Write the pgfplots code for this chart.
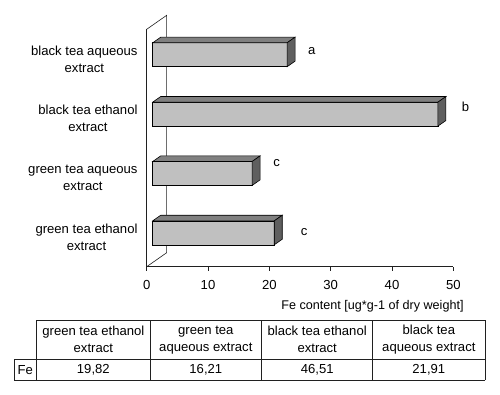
\documentclass[border=0pt]{standalone}
\usepackage{fontspec}
\setmainfont{Liberation Sans}
\usepackage{pgfplots}
\pgfplotsset{compat=1.18}
\definecolor{frontc}{HTML}{C0C0C0}
\definecolor{topc}{HTML}{808080}
\definecolor{sidec}{HTML}{5F5F5F}
\definecolor{linec}{HTML}{202020}
\newcommand{\tf}{\fontsize{13.1}{17}\selectfont}
\begin{document}
\begin{tikzpicture}[x=1pt,y=1pt]
\path[use as bounding box] (0,0) rectangle (500,394);
\begin{axis}[
  anchor=origin, at={(146.7pt,127.3pt)},
  x=6.133pt, y=59.35pt,
  xmin=0, xmax=50, ymin=0, ymax=4,
  axis x line*=bottom, axis y line*=left,
  axis line style={linec, line width=0.6pt},
  clip=false,
  tick align=outside,
  xtick={0,10,20,30,40,50},
  major tick length=4pt,
  tick style={linec, line width=0.6pt},
  /pgf/number format/assume math mode=true,
  ticklabel style={font=\tf, text=black},
  xticklabel style={inner sep=0pt, anchor=north, yshift=-9pt},
  ytick={0.5,1.5,2.5,3.5},
  yticklabels={{green tea ethanol\\extract},{green tea aqueous\\extract},{black tea ethanol\\extract},{black tea aqueous\\extract}},
  yticklabel style={align=center, inner sep=0pt, xshift=-5pt},
  y tick style={draw=none},
  extra y ticks={0,1,2,3,4},
  extra y tick labels={},
  extra y tick style={tick style={draw=linec, line width=0.6pt}},
]
% back wall
\addplot[linec, line width=0.6pt] coordinates {(0,4) (3.26,4.236) (3.26,0.236) (0,0)};
% front faces
\addplot[xbar, bar width=24pt, bar shift=0pt, xshift=6pt, yshift=4.2pt, fill=frontc, draw=black, line width=0.6pt]
  coordinates {(19.82,0.5) (16.21,1.5) (46.51,2.5) (21.91,3.5)};
% top faces
\addplot[fill=topc, draw=black, line width=0.6pt, xshift=6pt, yshift=4.2pt] coordinates {(0,3.702) (21.91,3.702) (23.214,3.7964) (1.304,3.7964)} -- cycle;
\addplot[fill=topc, draw=black, line width=0.6pt, xshift=6pt, yshift=4.2pt] coordinates {(0,2.702) (46.51,2.702) (47.814,2.7964) (1.304,2.7964)} -- cycle;
\addplot[fill=topc, draw=black, line width=0.6pt, xshift=6pt, yshift=4.2pt] coordinates {(0,1.702) (16.21,1.702) (17.514,1.7964) (1.304,1.7964)} -- cycle;
\addplot[fill=topc, draw=black, line width=0.6pt, xshift=6pt, yshift=4.2pt] coordinates {(0,0.702) (19.82,0.702) (21.124,0.7964) (1.304,0.7964)} -- cycle;
% side faces
\addplot[fill=sidec, draw=black, line width=0.6pt, xshift=6pt, yshift=4.2pt] coordinates {(21.91,3.298) (21.91,3.702) (23.214,3.7964) (23.214,3.3924)} -- cycle;
\addplot[fill=sidec, draw=black, line width=0.6pt, xshift=6pt, yshift=4.2pt] coordinates {(46.51,2.298) (46.51,2.702) (47.814,2.7964) (47.814,2.3924)} -- cycle;
\addplot[fill=sidec, draw=black, line width=0.6pt, xshift=6pt, yshift=4.2pt] coordinates {(16.21,1.298) (16.21,1.702) (17.514,1.7964) (17.514,1.3924)} -- cycle;
\addplot[fill=sidec, draw=black, line width=0.6pt, xshift=6pt, yshift=4.2pt] coordinates {(19.82,0.298) (19.82,0.702) (21.124,0.7964) (21.124,0.3924)} -- cycle;
% significance letters
\addplot[draw=none, nodes near coords, point meta=explicit symbolic,
  every node near coord/.append style={anchor=center, inner sep=0pt, font=\tf}]
  coordinates {(26.9,3.634)[a] (51.97,2.696)[b] (21.2,1.752)[c] (25.66,0.590)[c]};
\end{axis}
% x axis title
\node[font=\fontsize{12.6}{15}\selectfont] at (372.5,87.3) {Fe content [ug*g-1 of dry weight]};
% data table
\begin{scope}[draw=linec, line width=0.6pt]
\draw (36.7,74) -- (485,74);
\draw (14,34.7) -- (485,34.7);
\draw (14,14) -- (485,14);
\draw (14,14) -- (14,34.7);
\foreach \xx in {36.7,150,261.7,372.7,485} {\draw (\xx,14) -- (\xx,74);}
\end{scope}
\node[font=\tf, align=center] at (93.35,54.35) {green tea ethanol\\extract};
\node[font=\tf, align=center] at (205.85,54.35) {green tea\\aqueous extract};
\node[font=\tf, align=center] at (317.2,54.35) {black tea ethanol\\extract};
\node[font=\tf, align=center] at (428.85,54.35) {black tea\\aqueous extract};
\node[font=\tf] at (25.3,24.2) {Fe};
\node[font=\tf] at (93.35,24.2) {19,82};
\node[font=\tf] at (205.85,24.2) {16,21};
\node[font=\tf] at (317.2,24.2) {46,51};
\node[font=\tf] at (428.85,24.2) {21,91};
\end{tikzpicture}
\end{document}
